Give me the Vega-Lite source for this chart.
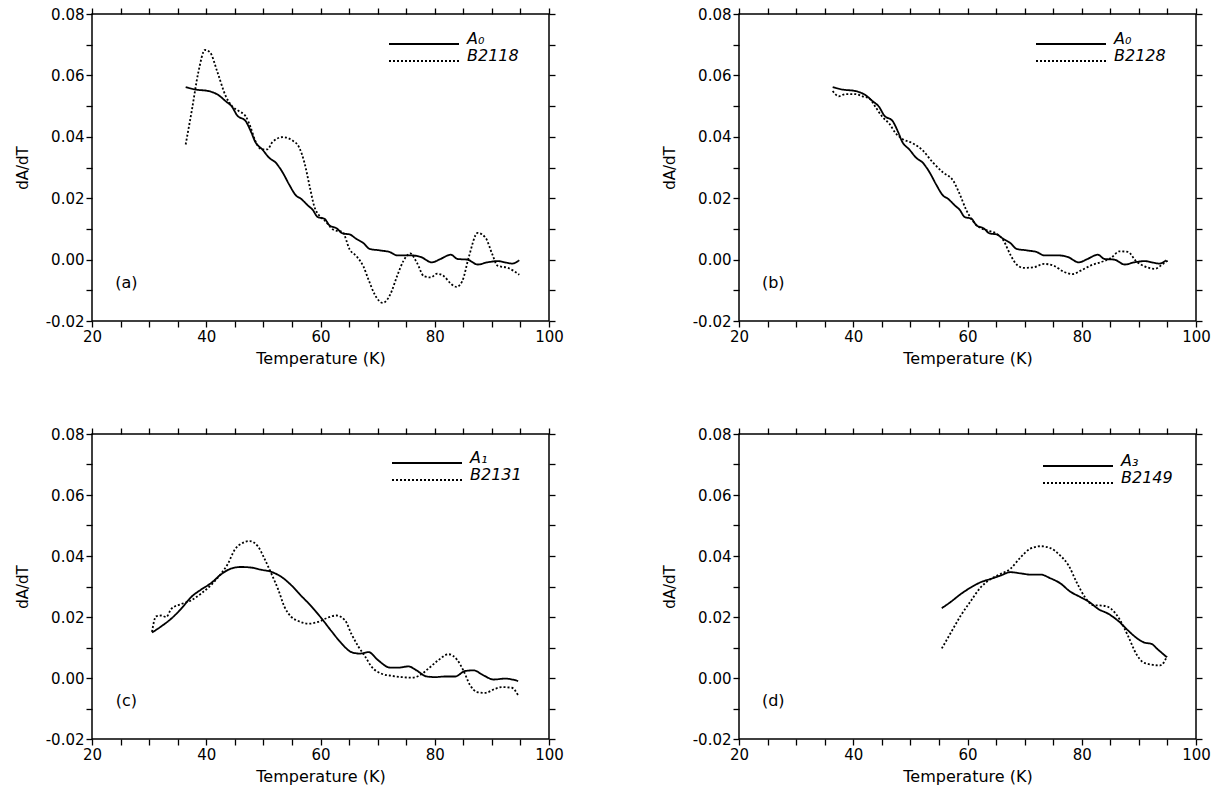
{
  "$schema": "https://vega.github.io/schema/vega-lite/v6.json",
  "background": "white",
  "padding": {"left": 14, "top": 6, "right": 5, "bottom": 5},
  "datasets": {
    "curves": [
      {"curve": "A₀", "T": 36.4, "dAdT": 0.0562}, {"curve": "A₀", "T": 38.1, "dAdT": 0.0554}, {"curve": "A₀", "T": 40.4, "dAdT": 0.0549},
      {"curve": "A₀", "T": 42.2, "dAdT": 0.0535}, {"curve": "A₀", "T": 43.4, "dAdT": 0.0516}, {"curve": "A₀", "T": 44.5, "dAdT": 0.0498},
      {"curve": "A₀", "T": 45.4, "dAdT": 0.047}, {"curve": "A₀", "T": 46.9, "dAdT": 0.0451}, {"curve": "A₀", "T": 47.8, "dAdT": 0.0418},
      {"curve": "A₀", "T": 48.6, "dAdT": 0.0383}, {"curve": "A₀", "T": 49.8, "dAdT": 0.0359}, {"curve": "A₀", "T": 51.0, "dAdT": 0.0332},
      {"curve": "A₀", "T": 52.2, "dAdT": 0.0315}, {"curve": "A₀", "T": 53.4, "dAdT": 0.0283}, {"curve": "A₀", "T": 54.5, "dAdT": 0.0245},
      {"curve": "A₀", "T": 55.7, "dAdT": 0.0209}, {"curve": "A₀", "T": 56.6, "dAdT": 0.0198}, {"curve": "A₀", "T": 57.8, "dAdT": 0.0176},
      {"curve": "A₀", "T": 58.6, "dAdT": 0.0163}, {"curve": "A₀", "T": 59.5, "dAdT": 0.0139}, {"curve": "A₀", "T": 60.7, "dAdT": 0.0133},
      {"curve": "A₀", "T": 61.6, "dAdT": 0.0111}, {"curve": "A₀", "T": 62.8, "dAdT": 0.0102}, {"curve": "A₀", "T": 63.9, "dAdT": 0.0085},
      {"curve": "A₀", "T": 65.1, "dAdT": 0.0082}, {"curve": "A₀", "T": 66.3, "dAdT": 0.0067}, {"curve": "A₀", "T": 67.5, "dAdT": 0.0054},
      {"curve": "A₀", "T": 68.6, "dAdT": 0.0035}, {"curve": "A₀", "T": 70.4, "dAdT": 0.003}, {"curve": "A₀", "T": 72.2, "dAdT": 0.0024},
      {"curve": "A₀", "T": 73.4, "dAdT": 0.0014}, {"curve": "A₀", "T": 75.7, "dAdT": 0.0014}, {"curve": "A₀", "T": 77.5, "dAdT": 0.0009},
      {"curve": "A₀", "T": 79.5, "dAdT": -0.0009}, {"curve": "A₀", "T": 81.0, "dAdT": 0.0002}, {"curve": "A₀", "T": 82.8, "dAdT": 0.0016},
      {"curve": "A₀", "T": 84.0, "dAdT": 0.0002}, {"curve": "A₀", "T": 85.7, "dAdT": 0.0}, {"curve": "A₀", "T": 87.5, "dAdT": -0.0016},
      {"curve": "A₀", "T": 89.2, "dAdT": -0.0009}, {"curve": "A₀", "T": 91.0, "dAdT": -0.0005}, {"curve": "A₀", "T": 93.6, "dAdT": -0.0013},
      {"curve": "A₀", "T": 94.8, "dAdT": -0.0002},

      {"curve": "B2118", "T": 36.4, "dAdT": 0.0375}, {"curve": "B2118", "T": 37.5, "dAdT": 0.0489}, {"curve": "B2118", "T": 38.6, "dAdT": 0.0609},
      {"curve": "B2118", "T": 39.8, "dAdT": 0.0683}, {"curve": "B2118", "T": 40.7, "dAdT": 0.0674}, {"curve": "B2118", "T": 41.9, "dAdT": 0.0614},
      {"curve": "B2118", "T": 43.4, "dAdT": 0.0533}, {"curve": "B2118", "T": 44.5, "dAdT": 0.05}, {"curve": "B2118", "T": 45.7, "dAdT": 0.0484},
      {"curve": "B2118", "T": 46.9, "dAdT": 0.0467}, {"curve": "B2118", "T": 47.8, "dAdT": 0.0429}, {"curve": "B2118", "T": 48.6, "dAdT": 0.0386},
      {"curve": "B2118", "T": 49.8, "dAdT": 0.0359}, {"curve": "B2118", "T": 50.7, "dAdT": 0.0359}, {"curve": "B2118", "T": 51.6, "dAdT": 0.0383},
      {"curve": "B2118", "T": 53.4, "dAdT": 0.0399}, {"curve": "B2118", "T": 55.1, "dAdT": 0.0388}, {"curve": "B2118", "T": 56.3, "dAdT": 0.0364},
      {"curve": "B2118", "T": 57.2, "dAdT": 0.0315}, {"curve": "B2118", "T": 58.1, "dAdT": 0.0239}, {"curve": "B2118", "T": 58.9, "dAdT": 0.0174},
      {"curve": "B2118", "T": 59.8, "dAdT": 0.0143}, {"curve": "B2118", "T": 60.7, "dAdT": 0.0128}, {"curve": "B2118", "T": 62.2, "dAdT": 0.0098},
      {"curve": "B2118", "T": 63.9, "dAdT": 0.0089}, {"curve": "B2118", "T": 65.1, "dAdT": 0.0033}, {"curve": "B2118", "T": 66.3, "dAdT": 0.0011},
      {"curve": "B2118", "T": 67.5, "dAdT": -0.0022}, {"curve": "B2118", "T": 68.4, "dAdT": -0.0065}, {"curve": "B2118", "T": 69.5, "dAdT": -0.0114},
      {"curve": "B2118", "T": 70.9, "dAdT": -0.0141}, {"curve": "B2118", "T": 72.2, "dAdT": -0.0114}, {"curve": "B2118", "T": 73.4, "dAdT": -0.0054},
      {"curve": "B2118", "T": 74.5, "dAdT": -0.0005}, {"curve": "B2118", "T": 75.7, "dAdT": 0.002}, {"curve": "B2118", "T": 76.9, "dAdT": -0.0011},
      {"curve": "B2118", "T": 78.1, "dAdT": -0.0054}, {"curve": "B2118", "T": 79.3, "dAdT": -0.0058}, {"curve": "B2118", "T": 80.4, "dAdT": -0.0046},
      {"curve": "B2118", "T": 81.6, "dAdT": -0.0054}, {"curve": "B2118", "T": 82.8, "dAdT": -0.0078}, {"curve": "B2118", "T": 83.8, "dAdT": -0.0089},
      {"curve": "B2118", "T": 84.8, "dAdT": -0.0071}, {"curve": "B2118", "T": 86.0, "dAdT": 0.0011}, {"curve": "B2118", "T": 87.5, "dAdT": 0.0087},
      {"curve": "B2118", "T": 88.9, "dAdT": 0.0071}, {"curve": "B2118", "T": 90.1, "dAdT": 0.0016}, {"curve": "B2118", "T": 91.0, "dAdT": -0.002},
      {"curve": "B2118", "T": 92.8, "dAdT": -0.0027}, {"curve": "B2118", "T": 94.8, "dAdT": -0.0049},

      {"curve": "B2128", "T": 36.4, "dAdT": 0.0549}, {"curve": "B2128", "T": 37.5, "dAdT": 0.0532}, {"curve": "B2128", "T": 38.6, "dAdT": 0.0539},
      {"curve": "B2128", "T": 40.4, "dAdT": 0.0539}, {"curve": "B2128", "T": 41.6, "dAdT": 0.0532}, {"curve": "B2128", "T": 42.8, "dAdT": 0.0525},
      {"curve": "B2128", "T": 43.9, "dAdT": 0.0497}, {"curve": "B2128", "T": 45.1, "dAdT": 0.0465}, {"curve": "B2128", "T": 46.3, "dAdT": 0.0443},
      {"curve": "B2128", "T": 47.5, "dAdT": 0.041}, {"curve": "B2128", "T": 48.6, "dAdT": 0.0393}, {"curve": "B2128", "T": 50.4, "dAdT": 0.0379},
      {"curve": "B2128", "T": 52.2, "dAdT": 0.0355}, {"curve": "B2128", "T": 53.9, "dAdT": 0.0317}, {"curve": "B2128", "T": 55.7, "dAdT": 0.0284},
      {"curve": "B2128", "T": 57.5, "dAdT": 0.0257}, {"curve": "B2128", "T": 58.6, "dAdT": 0.0215}, {"curve": "B2128", "T": 59.8, "dAdT": 0.0161},
      {"curve": "B2128", "T": 61.0, "dAdT": 0.0124}, {"curve": "B2128", "T": 62.2, "dAdT": 0.0104}, {"curve": "B2128", "T": 63.9, "dAdT": 0.0093},
      {"curve": "B2128", "T": 65.1, "dAdT": 0.0084}, {"curve": "B2128", "T": 66.3, "dAdT": 0.0062}, {"curve": "B2128", "T": 67.5, "dAdT": 0.0016},
      {"curve": "B2128", "T": 68.6, "dAdT": -0.0016}, {"curve": "B2128", "T": 69.8, "dAdT": -0.0027}, {"curve": "B2128", "T": 71.6, "dAdT": -0.0025},
      {"curve": "B2128", "T": 73.4, "dAdT": -0.0014}, {"curve": "B2128", "T": 75.1, "dAdT": -0.002}, {"curve": "B2128", "T": 76.9, "dAdT": -0.004},
      {"curve": "B2128", "T": 78.4, "dAdT": -0.0047}, {"curve": "B2128", "T": 79.8, "dAdT": -0.0036}, {"curve": "B2128", "T": 81.6, "dAdT": -0.0019},
      {"curve": "B2128", "T": 83.4, "dAdT": -0.0008}, {"curve": "B2128", "T": 85.1, "dAdT": 0.0005}, {"curve": "B2128", "T": 86.6, "dAdT": 0.0027},
      {"curve": "B2128", "T": 88.1, "dAdT": 0.0025}, {"curve": "B2128", "T": 89.5, "dAdT": -0.0005}, {"curve": "B2128", "T": 91.0, "dAdT": -0.0022},
      {"curve": "B2128", "T": 92.8, "dAdT": -0.003}, {"curve": "B2128", "T": 94.2, "dAdT": -0.0014}, {"curve": "B2128", "T": 95.1, "dAdT": -0.0003},

      {"curve": "A₁", "T": 30.5, "dAdT": 0.0149}, {"curve": "A₁", "T": 32.1, "dAdT": 0.0169}, {"curve": "A₁", "T": 33.9, "dAdT": 0.0195},
      {"curve": "A₁", "T": 35.6, "dAdT": 0.0227}, {"curve": "A₁", "T": 37.4, "dAdT": 0.0266}, {"curve": "A₁", "T": 39.1, "dAdT": 0.029},
      {"curve": "A₁", "T": 40.9, "dAdT": 0.0312}, {"curve": "A₁", "T": 42.6, "dAdT": 0.034}, {"curve": "A₁", "T": 44.4, "dAdT": 0.0359},
      {"curve": "A₁", "T": 46.1, "dAdT": 0.0364}, {"curve": "A₁", "T": 47.9, "dAdT": 0.0362}, {"curve": "A₁", "T": 49.6, "dAdT": 0.0355},
      {"curve": "A₁", "T": 51.4, "dAdT": 0.0348}, {"curve": "A₁", "T": 53.2, "dAdT": 0.0331}, {"curve": "A₁", "T": 54.9, "dAdT": 0.0304},
      {"curve": "A₁", "T": 56.7, "dAdT": 0.0268}, {"curve": "A₁", "T": 58.4, "dAdT": 0.0235}, {"curve": "A₁", "T": 60.2, "dAdT": 0.0195},
      {"curve": "A₁", "T": 61.9, "dAdT": 0.0154}, {"curve": "A₁", "T": 63.7, "dAdT": 0.0113}, {"curve": "A₁", "T": 65.4, "dAdT": 0.0085},
      {"curve": "A₁", "T": 66.9, "dAdT": 0.008}, {"curve": "A₁", "T": 68.4, "dAdT": 0.0085}, {"curve": "A₁", "T": 70.1, "dAdT": 0.0058},
      {"curve": "A₁", "T": 72.2, "dAdT": 0.0034}, {"curve": "A₁", "T": 73.6, "dAdT": 0.0034}, {"curve": "A₁", "T": 75.4, "dAdT": 0.0038},
      {"curve": "A₁", "T": 76.8, "dAdT": 0.0025}, {"curve": "A₁", "T": 78.6, "dAdT": 0.0005}, {"curve": "A₁", "T": 80.1, "dAdT": 0.0003},
      {"curve": "A₁", "T": 81.8, "dAdT": 0.0005}, {"curve": "A₁", "T": 83.6, "dAdT": 0.0005}, {"curve": "A₁", "T": 85.3, "dAdT": 0.0023},
      {"curve": "A₁", "T": 86.8, "dAdT": 0.0025}, {"curve": "A₁", "T": 88.5, "dAdT": 0.0009}, {"curve": "A₁", "T": 90.3, "dAdT": -0.0005},
      {"curve": "A₁", "T": 92.3, "dAdT": -0.0002}, {"curve": "A₁", "T": 94.6, "dAdT": -0.001},

      {"curve": "B2131", "T": 30.5, "dAdT": 0.0151}, {"curve": "B2131", "T": 31.2, "dAdT": 0.0202}, {"curve": "B2131", "T": 32.1, "dAdT": 0.0205},
      {"curve": "B2131", "T": 33.0, "dAdT": 0.02}, {"curve": "B2131", "T": 33.9, "dAdT": 0.0227}, {"curve": "B2131", "T": 35.6, "dAdT": 0.0242},
      {"curve": "B2131", "T": 37.4, "dAdT": 0.0255}, {"curve": "B2131", "T": 39.1, "dAdT": 0.0277}, {"curve": "B2131", "T": 40.9, "dAdT": 0.0306},
      {"curve": "B2131", "T": 42.6, "dAdT": 0.0342}, {"curve": "B2131", "T": 43.8, "dAdT": 0.0375}, {"curve": "B2131", "T": 45.0, "dAdT": 0.0421},
      {"curve": "B2131", "T": 46.4, "dAdT": 0.0443}, {"curve": "B2131", "T": 47.6, "dAdT": 0.0449}, {"curve": "B2131", "T": 49.1, "dAdT": 0.043},
      {"curve": "B2131", "T": 50.2, "dAdT": 0.0391}, {"curve": "B2131", "T": 51.4, "dAdT": 0.0342}, {"curve": "B2131", "T": 52.6, "dAdT": 0.029},
      {"curve": "B2131", "T": 53.7, "dAdT": 0.0233}, {"curve": "B2131", "T": 54.9, "dAdT": 0.02}, {"curve": "B2131", "T": 56.1, "dAdT": 0.0187},
      {"curve": "B2131", "T": 57.9, "dAdT": 0.0178}, {"curve": "B2131", "T": 59.6, "dAdT": 0.0184}, {"curve": "B2131", "T": 61.3, "dAdT": 0.0198},
      {"curve": "B2131", "T": 62.8, "dAdT": 0.0205}, {"curve": "B2131", "T": 64.3, "dAdT": 0.0189}, {"curve": "B2131", "T": 65.4, "dAdT": 0.0145},
      {"curve": "B2131", "T": 66.6, "dAdT": 0.0104}, {"curve": "B2131", "T": 67.8, "dAdT": 0.0071}, {"curve": "B2131", "T": 68.9, "dAdT": 0.0038},
      {"curve": "B2131", "T": 70.7, "dAdT": 0.0014}, {"curve": "B2131", "T": 72.5, "dAdT": 0.0007}, {"curve": "B2131", "T": 74.2, "dAdT": 0.0003},
      {"curve": "B2131", "T": 76.0, "dAdT": 0.0001}, {"curve": "B2131", "T": 77.4, "dAdT": 0.0009}, {"curve": "B2131", "T": 78.9, "dAdT": 0.0031},
      {"curve": "B2131", "T": 80.6, "dAdT": 0.0058}, {"curve": "B2131", "T": 82.4, "dAdT": 0.0078}, {"curve": "B2131", "T": 83.9, "dAdT": 0.006},
      {"curve": "B2131", "T": 85.0, "dAdT": 0.0025}, {"curve": "B2131", "T": 86.2, "dAdT": -0.0024}, {"curve": "B2131", "T": 87.4, "dAdT": -0.0046},
      {"curve": "B2131", "T": 88.8, "dAdT": -0.0049}, {"curve": "B2131", "T": 90.6, "dAdT": -0.0035}, {"curve": "B2131", "T": 91.8, "dAdT": -0.003},
      {"curve": "B2131", "T": 93.5, "dAdT": -0.0032}, {"curve": "B2131", "T": 94.6, "dAdT": -0.0057},

      {"curve": "A₃", "T": 55.5, "dAdT": 0.0229}, {"curve": "A₃", "T": 57.1, "dAdT": 0.025}, {"curve": "A₃", "T": 58.8, "dAdT": 0.0275},
      {"curve": "A₃", "T": 60.6, "dAdT": 0.0297}, {"curve": "A₃", "T": 62.3, "dAdT": 0.0314}, {"curve": "A₃", "T": 64.1, "dAdT": 0.0325},
      {"curve": "A₃", "T": 65.8, "dAdT": 0.0336}, {"curve": "A₃", "T": 67.5, "dAdT": 0.0347}, {"curve": "A₃", "T": 69.3, "dAdT": 0.0343},
      {"curve": "A₃", "T": 71.0, "dAdT": 0.0339}, {"curve": "A₃", "T": 72.8, "dAdT": 0.0339}, {"curve": "A₃", "T": 74.5, "dAdT": 0.0327},
      {"curve": "A₃", "T": 76.2, "dAdT": 0.0311}, {"curve": "A₃", "T": 78.0, "dAdT": 0.0283}, {"curve": "A₃", "T": 79.7, "dAdT": 0.0266},
      {"curve": "A₃", "T": 81.4, "dAdT": 0.0248}, {"curve": "A₃", "T": 82.9, "dAdT": 0.0226}, {"curve": "A₃", "T": 84.6, "dAdT": 0.0211},
      {"curve": "A₃", "T": 86.4, "dAdT": 0.0187}, {"curve": "A₃", "T": 88.1, "dAdT": 0.0156}, {"curve": "A₃", "T": 89.9, "dAdT": 0.0127},
      {"curve": "A₃", "T": 91.0, "dAdT": 0.0116}, {"curve": "A₃", "T": 92.2, "dAdT": 0.0112}, {"curve": "A₃", "T": 93.3, "dAdT": 0.0094},
      {"curve": "A₃", "T": 94.9, "dAdT": 0.0068},

      {"curve": "B2149", "T": 55.5, "dAdT": 0.0097}, {"curve": "B2149", "T": 57.1, "dAdT": 0.0149}, {"curve": "B2149", "T": 58.8, "dAdT": 0.0204},
      {"curve": "B2149", "T": 60.6, "dAdT": 0.0253}, {"curve": "B2149", "T": 62.3, "dAdT": 0.0297}, {"curve": "B2149", "T": 64.1, "dAdT": 0.0325},
      {"curve": "B2149", "T": 65.8, "dAdT": 0.0341}, {"curve": "B2149", "T": 67.5, "dAdT": 0.0358}, {"curve": "B2149", "T": 69.3, "dAdT": 0.0396},
      {"curve": "B2149", "T": 71.0, "dAdT": 0.0424}, {"curve": "B2149", "T": 72.8, "dAdT": 0.0432}, {"curve": "B2149", "T": 74.5, "dAdT": 0.0426},
      {"curve": "B2149", "T": 76.2, "dAdT": 0.0402}, {"curve": "B2149", "T": 77.7, "dAdT": 0.0369}, {"curve": "B2149", "T": 79.1, "dAdT": 0.0314},
      {"curve": "B2149", "T": 80.6, "dAdT": 0.0264}, {"curve": "B2149", "T": 82.0, "dAdT": 0.0239}, {"curve": "B2149", "T": 83.8, "dAdT": 0.0237},
      {"curve": "B2149", "T": 85.2, "dAdT": 0.0226}, {"curve": "B2149", "T": 86.7, "dAdT": 0.019}, {"curve": "B2149", "T": 88.1, "dAdT": 0.0138},
      {"curve": "B2149", "T": 89.6, "dAdT": 0.0077}, {"curve": "B2149", "T": 90.7, "dAdT": 0.0052}, {"curve": "B2149", "T": 92.2, "dAdT": 0.0044},
      {"curve": "B2149", "T": 93.6, "dAdT": 0.0041}, {"curve": "B2149", "T": 94.5, "dAdT": 0.0055}, {"curve": "B2149", "T": 94.9, "dAdT": 0.0072}
    ]
  },
  "columns": 2,
  "spacing": {"row": 59, "column": 96},
  "resolve": {"scale": {"strokeDash": "independent"}, "legend": {"strokeDash": "independent"}},
  "concat": [
    {
      "width": 457, "height": 307,
      "layer": [
        {
          "data": {"name": "curves"},
          "transform": [{"filter": {"field": "curve", "oneOf": ["A₀", "B2118"]}}],
          "mark": {"type": "line", "color": "black", "strokeWidth": 1.8, "interpolate": "monotone"},
          "encoding": {
            "x": {"field": "T", "type": "quantitative", "scale": {"domain": [20, 100], "nice": false, "zero": false},
              "axis": {"orient": "bottom", "title": "Temperature (K)", "values": [20, 25, 30, 35, 40, 45, 50, 55, 60, 65, 70, 75, 80, 85, 90, 95, 100],
                "labelExpr": "datum.value % 20 === 0 ? datum.label : ''", "minExtent": 24, "maxExtent": 24, "titlePadding": 5,
                "encode": {"ticks": {"update": {"y2": {"signal": "datum.value % 20 === 0 ? -7 : -4"}}}}}},
            "y": {"field": "dAdT", "type": "quantitative", "scale": {"domain": [-0.02, 0.08], "nice": false, "zero": false},
              "axis": {"orient": "left", "title": "dA/dT", "values": [-0.02, -0.01, 0, 0.01, 0.02, 0.03, 0.04, 0.05, 0.06, 0.07, 0.08],
                "labelExpr": "abs(round(datum.value * 100)) % 2 === 0 ? replace(format(datum.value, '.2f'), '−', '-') : ''",
                "minExtent": 50, "maxExtent": 50, "titlePadding": 12, "titleFontSize": 15,
                "encode": {"ticks": {"update": {"x2": {"signal": "abs(round(datum.value * 100)) % 2 === 0 ? 7 : 4"}}}}}},
            "strokeDash": {"field": "curve", "type": "nominal",
              "scale": {"domain": ["A₀", "B2118"], "range": [[1, 0], [2, 2]]},
              "legend": {"orient": "none", "legendX": 324, "legendY": 22}}
          }
        },
        {
          "data": {"values": [{"tag": "(a)"}]},
          "mark": {"type": "text", "font": "DejaVu Sans", "fontSize": 16, "color": "black"},
          "encoding": {
            "x": {"datum": 26, "type": "quantitative",
              "axis": {"orient": "top", "title": null, "labels": false, "values": [20, 25, 30, 35, 40, 45, 50, 55, 60, 65, 70, 75, 80, 85, 90, 95, 100],
                "minExtent": 0, "maxExtent": 0,
                "encode": {"ticks": {"update": {"y2": {"signal": "datum.value % 20 === 0 ? 7 : 4"}}}}}},
            "y": {"datum": -0.0077, "type": "quantitative",
              "axis": {"orient": "right", "title": null, "labels": false, "values": [-0.02, -0.01, 0, 0.01, 0.02, 0.03, 0.04, 0.05, 0.06, 0.07, 0.08],
                "minExtent": 0, "maxExtent": 0,
                "encode": {"ticks": {"update": {"x2": {"signal": "abs(round(datum.value * 100)) % 2 === 0 ? -7 : -4"}}}}}},
            "text": {"field": "tag"}
          }
        }
      ],
      "resolve": {"axis": {"x": "independent", "y": "independent"}}
    },
    {
      "width": 457, "height": 307,
      "layer": [
        {
          "data": {"name": "curves"},
          "transform": [{"filter": {"field": "curve", "oneOf": ["A₀", "B2128"]}}],
          "mark": {"type": "line", "color": "black", "strokeWidth": 1.8, "interpolate": "monotone"},
          "encoding": {
            "x": {"field": "T", "type": "quantitative", "scale": {"domain": [20, 100], "nice": false, "zero": false},
              "axis": {"orient": "bottom", "title": "Temperature (K)", "values": [20, 25, 30, 35, 40, 45, 50, 55, 60, 65, 70, 75, 80, 85, 90, 95, 100],
                "labelExpr": "datum.value % 20 === 0 ? datum.label : ''", "minExtent": 24, "maxExtent": 24, "titlePadding": 5,
                "encode": {"ticks": {"update": {"y2": {"signal": "datum.value % 20 === 0 ? -7 : -4"}}}}}},
            "y": {"field": "dAdT", "type": "quantitative", "scale": {"domain": [-0.02, 0.08], "nice": false, "zero": false},
              "axis": {"orient": "left", "title": "dA/dT", "values": [-0.02, -0.01, 0, 0.01, 0.02, 0.03, 0.04, 0.05, 0.06, 0.07, 0.08],
                "labelExpr": "abs(round(datum.value * 100)) % 2 === 0 ? replace(format(datum.value, '.2f'), '−', '-') : ''",
                "minExtent": 50, "maxExtent": 50, "titlePadding": 12, "titleFontSize": 15,
                "encode": {"ticks": {"update": {"x2": {"signal": "abs(round(datum.value * 100)) % 2 === 0 ? 7 : 4"}}}}}},
            "strokeDash": {"field": "curve", "type": "nominal",
              "scale": {"domain": ["A₀", "B2128"], "range": [[1, 0], [2, 2]]},
              "legend": {"orient": "none", "legendX": 324, "legendY": 22}}
          }
        },
        {
          "data": {"values": [{"tag": "(b)"}]},
          "mark": {"type": "text", "font": "DejaVu Sans", "fontSize": 16, "color": "black"},
          "encoding": {
            "x": {"datum": 26, "type": "quantitative",
              "axis": {"orient": "top", "title": null, "labels": false, "values": [20, 25, 30, 35, 40, 45, 50, 55, 60, 65, 70, 75, 80, 85, 90, 95, 100],
                "minExtent": 0, "maxExtent": 0,
                "encode": {"ticks": {"update": {"y2": {"signal": "datum.value % 20 === 0 ? 7 : 4"}}}}}},
            "y": {"datum": -0.0077, "type": "quantitative",
              "axis": {"orient": "right", "title": null, "labels": false, "values": [-0.02, -0.01, 0, 0.01, 0.02, 0.03, 0.04, 0.05, 0.06, 0.07, 0.08],
                "minExtent": 0, "maxExtent": 0,
                "encode": {"ticks": {"update": {"x2": {"signal": "abs(round(datum.value * 100)) % 2 === 0 ? -7 : -4"}}}}}},
            "text": {"field": "tag"}
          }
        }
      ],
      "resolve": {"axis": {"x": "independent", "y": "independent"}}
    },
    {
      "width": 457, "height": 305,
      "layer": [
        {
          "data": {"name": "curves"},
          "transform": [{"filter": {"field": "curve", "oneOf": ["A₁", "B2131"]}}],
          "mark": {"type": "line", "color": "black", "strokeWidth": 1.8, "interpolate": "monotone"},
          "encoding": {
            "x": {"field": "T", "type": "quantitative", "scale": {"domain": [20, 100], "nice": false, "zero": false},
              "axis": {"orient": "bottom", "title": "Temperature (K)", "values": [20, 25, 30, 35, 40, 45, 50, 55, 60, 65, 70, 75, 80, 85, 90, 95, 100],
                "labelExpr": "datum.value % 20 === 0 ? datum.label : ''", "minExtent": 24, "maxExtent": 24, "titlePadding": 5,
                "encode": {"ticks": {"update": {"y2": {"signal": "datum.value % 20 === 0 ? -7 : -4"}}}}}},
            "y": {"field": "dAdT", "type": "quantitative", "scale": {"domain": [-0.02, 0.08], "nice": false, "zero": false},
              "axis": {"orient": "left", "title": "dA/dT", "values": [-0.02, -0.01, 0, 0.01, 0.02, 0.03, 0.04, 0.05, 0.06, 0.07, 0.08],
                "labelExpr": "abs(round(datum.value * 100)) % 2 === 0 ? replace(format(datum.value, '.2f'), '−', '-') : ''",
                "minExtent": 50, "maxExtent": 50, "titlePadding": 12, "titleFontSize": 15,
                "encode": {"ticks": {"update": {"x2": {"signal": "abs(round(datum.value * 100)) % 2 === 0 ? 7 : 4"}}}}}},
            "strokeDash": {"field": "curve", "type": "nominal",
              "scale": {"domain": ["A₁", "B2131"], "range": [[1, 0], [2, 2]]},
              "legend": {"orient": "none", "legendX": 327, "legendY": 21}}
          }
        },
        {
          "data": {"values": [{"tag": "(c)"}]},
          "mark": {"type": "text", "font": "DejaVu Sans", "fontSize": 16, "color": "black"},
          "encoding": {
            "x": {"datum": 26, "type": "quantitative",
              "axis": {"orient": "top", "title": null, "labels": false, "values": [20, 25, 30, 35, 40, 45, 50, 55, 60, 65, 70, 75, 80, 85, 90, 95, 100],
                "minExtent": 0, "maxExtent": 0,
                "encode": {"ticks": {"update": {"y2": {"signal": "datum.value % 20 === 0 ? 7 : 4"}}}}}},
            "y": {"datum": -0.0077, "type": "quantitative",
              "axis": {"orient": "right", "title": null, "labels": false, "values": [-0.02, -0.01, 0, 0.01, 0.02, 0.03, 0.04, 0.05, 0.06, 0.07, 0.08],
                "minExtent": 0, "maxExtent": 0,
                "encode": {"ticks": {"update": {"x2": {"signal": "abs(round(datum.value * 100)) % 2 === 0 ? -7 : -4"}}}}}},
            "text": {"field": "tag"}
          }
        }
      ],
      "resolve": {"axis": {"x": "independent", "y": "independent"}}
    },
    {
      "width": 457, "height": 305,
      "layer": [
        {
          "data": {"name": "curves"},
          "transform": [{"filter": {"field": "curve", "oneOf": ["A₃", "B2149"]}}],
          "mark": {"type": "line", "color": "black", "strokeWidth": 1.8, "interpolate": "monotone"},
          "encoding": {
            "x": {"field": "T", "type": "quantitative", "scale": {"domain": [20, 100], "nice": false, "zero": false},
              "axis": {"orient": "bottom", "title": "Temperature (K)", "values": [20, 25, 30, 35, 40, 45, 50, 55, 60, 65, 70, 75, 80, 85, 90, 95, 100],
                "labelExpr": "datum.value % 20 === 0 ? datum.label : ''", "minExtent": 24, "maxExtent": 24, "titlePadding": 5,
                "encode": {"ticks": {"update": {"y2": {"signal": "datum.value % 20 === 0 ? -7 : -4"}}}}}},
            "y": {"field": "dAdT", "type": "quantitative", "scale": {"domain": [-0.02, 0.08], "nice": false, "zero": false},
              "axis": {"orient": "left", "title": "dA/dT", "values": [-0.02, -0.01, 0, 0.01, 0.02, 0.03, 0.04, 0.05, 0.06, 0.07, 0.08],
                "labelExpr": "abs(round(datum.value * 100)) % 2 === 0 ? replace(format(datum.value, '.2f'), '−', '-') : ''",
                "minExtent": 50, "maxExtent": 50, "titlePadding": 12, "titleFontSize": 15,
                "encode": {"ticks": {"update": {"x2": {"signal": "abs(round(datum.value * 100)) % 2 === 0 ? 7 : 4"}}}}}},
            "strokeDash": {"field": "curve", "type": "nominal",
              "scale": {"domain": ["A₃", "B2149"], "range": [[1, 0], [2, 2]]},
              "legend": {"orient": "none", "legendX": 331, "legendY": 24}}
          }
        },
        {
          "data": {"values": [{"tag": "(d)"}]},
          "mark": {"type": "text", "font": "DejaVu Sans", "fontSize": 16, "color": "black"},
          "encoding": {
            "x": {"datum": 26, "type": "quantitative",
              "axis": {"orient": "top", "title": null, "labels": false, "values": [20, 25, 30, 35, 40, 45, 50, 55, 60, 65, 70, 75, 80, 85, 90, 95, 100],
                "minExtent": 0, "maxExtent": 0,
                "encode": {"ticks": {"update": {"y2": {"signal": "datum.value % 20 === 0 ? 7 : 4"}}}}}},
            "y": {"datum": -0.0077, "type": "quantitative",
              "axis": {"orient": "right", "title": null, "labels": false, "values": [-0.02, -0.01, 0, 0.01, 0.02, 0.03, 0.04, 0.05, 0.06, 0.07, 0.08],
                "minExtent": 0, "maxExtent": 0,
                "encode": {"ticks": {"update": {"x2": {"signal": "abs(round(datum.value * 100)) % 2 === 0 ? -7 : -4"}}}}}},
            "text": {"field": "tag"}
          }
        }
      ],
      "resolve": {"axis": {"x": "independent", "y": "independent"}}
    }
  ],
  "config": {
    "view": {"stroke": "black", "strokeWidth": 1.5},
    "axis": {
      "domain": false, "grid": false, "ticks": true, "tickSize": 6, "tickColor": "black", "tickWidth": 1.3,
      "labelPadding": 2, "labelFont": "DejaVu Sans", "labelFontSize": 15, "labelColor": "black",
      "labelOverlap": false, "labelFlush": false, "labelBound": false,
      "titleFont": "DejaVu Sans", "titleFontSize": 16, "titleFontWeight": "normal", "titleColor": "black"
    },
    "legend": {
      "title": null, "padding": 0, "rowPadding": 0,
      "symbolType": "M -7 0 L 7 0", "symbolSize": 100, "symbolStrokeWidth": 2, "symbolStrokeColor": "black", "symbolFillColor": "transparent",
      "labelFont": "DejaVu Sans", "labelFontStyle": "italic", "labelFontSize": 16, "labelColor": "black",
      "labelBaseline": "alphabetic", "labelOffset": 35
    }
  }
}
